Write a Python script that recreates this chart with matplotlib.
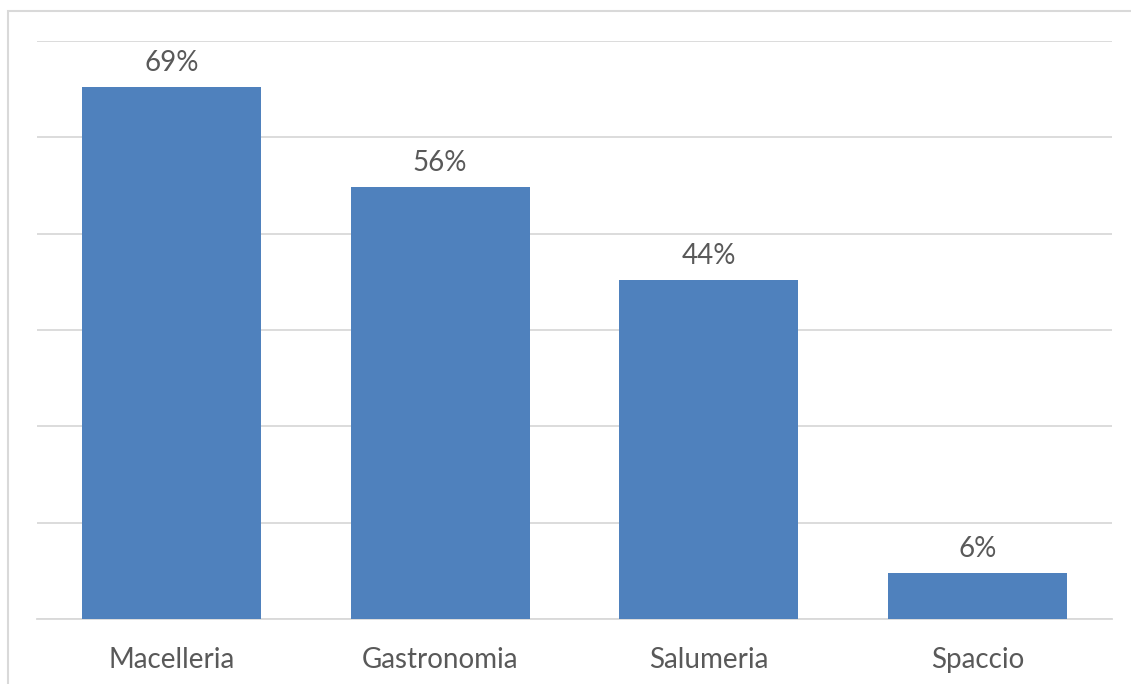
import matplotlib
matplotlib.use("Agg")
import matplotlib.pyplot as plt
from matplotlib.patches import Rectangle
from matplotlib.ticker import MultipleLocator

categories = ["Macelleria", "Gastronomia", "Salumeria", "Spaccio"]
shares = [0.69, 0.56, 0.44, 0.06]

BAR_COLOR = "#4F81BD"
GRID_COLOR = "#D9D9D9"
TEXT_COLOR = "#595959"

plt.rcParams["font.family"] = ["Lato", "DejaVu Sans"]

W, H = 1131, 684
fig = plt.figure(figsize=(W / 100, H / 100), dpi=100)

# chart area outline
fig.patches.append(Rectangle((7.5 / W, -0.1), 1.2, (H - 11.5) / H + 0.1,
                             transform=fig.transFigure, fill=False,
                             edgecolor=GRID_COLOR, linewidth=1.5))

left, right, top, bottom = 37, 1112, 41, 619
ax = fig.add_axes([left / W, 1 - bottom / H, (right - left) / W, (bottom - top) / H])

x = range(len(categories))
bars = ax.bar(x, shares, width=0.666, color=BAR_COLOR, zorder=3)

ax.set_xlim(-0.5, len(categories) - 0.5)
ax.set_ylim(0, 0.75)
ax.yaxis.set_major_locator(MultipleLocator(0.125))
ax.grid(axis="y", color=GRID_COLOR, linewidth=1.3, zorder=0)
ax.set_axisbelow(True)

for s in ["top", "right", "left"]:
    ax.spines[s].set_visible(False)
ax.spines["bottom"].set_color(GRID_COLOR)
ax.spines["bottom"].set_linewidth(1.3)

ax.set_yticklabels([])
ax.tick_params(axis="y", length=0)
ax.tick_params(axis="x", length=0, pad=20.5, labelsize=20, labelcolor=TEXT_COLOR)
ax.set_xticks(list(x))
ax.set_xticklabels(categories)

for bar, v in zip(bars, shares):
    ax.annotate(f"{v * 100:.0f}%", (bar.get_x() + bar.get_width() / 2, v),
                xytext=(0, 8), textcoords="offset points",
                ha="center", va="bottom", fontsize=20, color=TEXT_COLOR)

fig.savefig("out.png", dpi=100)
